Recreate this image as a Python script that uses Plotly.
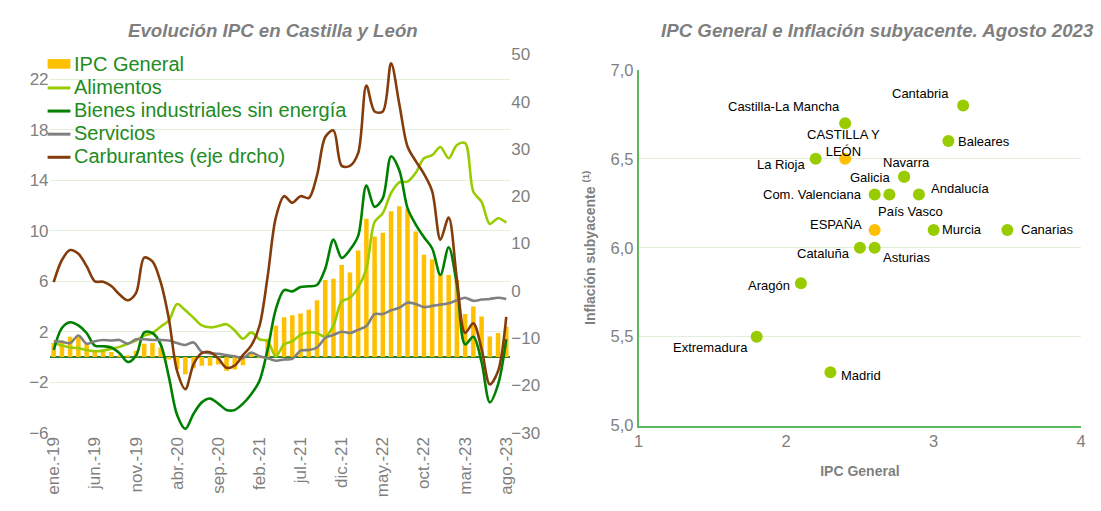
import plotly.graph_objects as go

# ---------------- data: left chart ----------------
month_abbr = ["ene.", "feb.", "mar.", "abr.", "may.", "jun.", "jul.", "ago.", "sep.", "oct.", "nov.", "dic."]
periods = [f"{m}-{y}" for y in range(19, 24) for m in month_abbr][:56]   # ene.-19 .. ago.-23
tick_labels = periods[::5]

ipc_general = [1.1, 1.3, 1.6, 1.75, 1.0, 0.4, 0.55, 0.4, 0.1, 0.1, 0.5, 1.05,
               1.1, 0.75, -0.2, -0.95, -1.37, -0.9, -0.7, -0.7, -0.6, -1.1, -1.0, -0.65,
               0.3, -0.05, 1.45, 2.47, 3.15, 3.3, 3.45, 3.75, 4.5, 6.1, 6.2, 7.3,
               6.7, 8.45, 10.95, 9.55, 9.85, 11.55, 11.95, 11.75, 9.95, 8.1, 7.75, 6.55,
               6.5, 6.1, 3.4, 4.0, 3.2, 1.63, 1.9, 2.4]

alimentos = [1.1, 0.9, 0.75, 0.7, 0.55, 0.45, 0.5, 0.65, 0.8, 1.05, 1.3, 1.7,
             1.9, 2.4, 2.9, 4.2, 3.7, 3.1, 2.5, 2.35, 2.45, 2.6, 2.1, 1.45,
             1.95, 1.4, 1.25, 0.05, 1.0, 1.25, 1.75, 1.95, 1.9, 1.6, 2.5, 4.4,
             4.7, 5.5, 7.0, 10.7, 11.4, 13.0, 13.85, 13.9, 14.6, 15.75, 16.0, 16.65,
             15.75, 16.8, 16.95, 13.1, 12.3, 10.55, 11.0, 10.65]

bienes_ind = [0.55, 2.3, 2.75, 2.5, 1.9, 0.9, 0.85, 0.75, 0.3, -0.4, 0.1, 1.95,
              1.9, 1.0, -1.6, -4.6, -5.7, -4.5, -3.6, -3.3, -3.7, -4.2, -4.2, -3.7,
              -2.95, -1.9, 0.6, 3.8, 5.3, 5.2, 5.55, 5.6, 5.7, 7.0, 9.3, 7.85,
              8.5, 9.6, 13.6, 11.9, 12.6, 15.9, 14.8, 11.8, 10.5, 9.5, 8.6, 6.5,
              8.7, 5.7, 1.0, 1.6, -0.4, -3.6, -2.2, 1.4]

servicios = [1.25, 1.2, 1.1, 1.7, 1.05, 1.25, 1.35, 1.3, 1.35, 1.05, 1.4, 1.4,
             1.35, 1.35, 1.3, 1.1, 0.95, 1.15, 0.4, 0.3, 0.25, 0.15, 0.05, -0.1,
             0.35, 0.05, -0.1, -0.3, -0.2, -0.15, 0.5, 0.55, 0.75, 1.5, 1.75, 2.0,
             1.9, 2.15, 2.45, 3.4, 3.4, 3.7, 3.9, 4.3, 4.2, 3.95, 4.05, 4.15,
             4.25, 4.5, 4.7, 4.45, 4.55, 4.6, 4.7, 4.6]

carburantes = [1.8, 6.5, 8.6, 7.8, 5.2, 2.0, 1.9, 1.0, -0.8, -2.0, -0.5, 7.0,
               6.2, 1.8, -6.0, -17.0, -20.8, -15.5, -13.2, -13.0, -14.3, -16.3, -15.8, -13.6,
               -11.6, -7.5, 3.0, 15.5, 20.0, 18.6, 20.0, 19.6, 24.4, 32.5, 33.9, 26.4,
               26.4, 29.1, 43.4, 37.9, 37.9, 48.1, 39.5, 30.5, 27.4, 24.7, 21.0, 10.8,
               15.5, 2.5, -8.9, -6.9, -12.3, -19.8, -17.0, -5.5]

# ---------------- data: right chart ----------------
regions = ["Cantabria", "Castilla-La Mancha", "Baleares", "CASTILLA Y<br>LEÓN", "La Rioja",
           "Navarra", "Galicia", "Com. Valenciana", "País Vasco", "Andalucía", "ESPAÑA",
           "Murcia", "Canarias", "Cataluña", "Asturias", "Aragón", "Extremadura", "Madrid"]
ipc_reg = [3.2, 2.4, 3.1, 2.4, 2.2, 2.8, 2.8, 2.6, 2.7, 2.9, 2.6, 3.0, 3.5, 2.5, 2.6, 2.1, 1.8, 2.3]
subyacente_reg = [6.8, 6.7, 6.6, 6.5, 6.5, 6.4, 6.4, 6.3, 6.3, 6.3, 6.1, 6.1, 6.1, 6.0, 6.0, 5.8, 5.5, 5.3]
highlighted = ["CASTILLA Y<br>LEÓN", "ESPAÑA"]

# label placement (style): anchor, x offset px, y offset px (down positive)
label_pos = {
    "Cantabria": ("right", -12, -12),
    "Castilla-La Mancha": ("right", -3, -17),
    "Baleares": ("left", 8, 0),
    "CASTILLA Y<br>LEÓN": ("center", -2, -16),
    "La Rioja": ("right", -9, 6),
    "Navarra": ("center", 2, -14),
    "Galicia": ("right", -11, 1),
    "Com. Valenciana": ("right", -11, 0),
    "País Vasco": ("center", 21, 17),
    "Andalucía": ("left", 10, -6),
    "ESPAÑA": ("right", -11, -5),
    "Murcia": ("left", 6, 0),
    "Canarias": ("left", 12, 0),
    "Cataluña": ("right", -8, 6),
    "Asturias": ("left", 6, 10),
    "Aragón": ("right", -9, 2),
    "Extremadura": ("right", -7, 11),
    "Madrid": ("left", 9, 3),
}

W, H = 1101, 511
GRAY = "#7F7F7F"
GRID = "#E2EFDA"
LEG_GREEN = "#228B22"
AXIS_GREEN = "#5CB85C"
FONT = "Liberation Sans, Arial"


def fx(px):          # page x pixel -> paper fraction
    return px / W


def fy(py):          # page y pixel -> paper fraction
    return 1 - py / H


fig = go.Figure()

bar_color = "#FFC000"
fig.add_trace(go.Bar(x=periods, y=ipc_general, name="IPC General",
                     marker=dict(color=bar_color, line=dict(width=0)),
                     xaxis="x", yaxis="y", showlegend=False))

line_series = [
    ("Alimentos", alimentos, "#99CC00", "y"),
    ("Bienes industriales sin energía", bienes_ind, "#008000", "y"),
    ("Servicios", servicios, "#808080", "y"),
    ("Carburantes (eje drcho)", carburantes, "#843C0C", "y2"),
]
for name, vals, col, ax in line_series:
    fig.add_trace(go.Scatter(x=periods, y=vals, name=name, mode="lines",
                             line=dict(color=col, width=2.6, shape="spline", smoothing=0.9),
                             xaxis="x", yaxis=ax, showlegend=False))

colors = ["#FFC000" if r in highlighted else "#99CC00" for r in regions]
fig.add_trace(go.Scatter(x=ipc_reg, y=subyacente_reg, mode="markers",
                         marker=dict(size=12, color=colors, line=dict(width=0)),
                         xaxis="x2", yaxis="y3", showlegend=False, hoverinfo="text",
                         text=regions))

annotations = []
shapes = []
for r, xv, yv in zip(regions, ipc_reg, subyacente_reg):
    anc, dx, dy = label_pos[r]
    annotations.append(dict(x=xv, y=yv, xref="x2", yref="y3", text=r, showarrow=False,
                            xanchor=anc, yanchor="middle", xshift=dx, yshift=-dy,
                            font=dict(family=FONT, size=13, color="#000000")))

# ---- custom legend (compact spacing as in the reference) ----
legend_entries = [("IPC General", bar_color, "bar")] + [(n, c, "line") for n, _, c, _ in line_series]
leg_x0, leg_x1, leg_text_x, leg_y0, leg_dy = 43, 66, 68, 57, 24
for k, (name, col, kind) in enumerate(legend_entries):
    yc = leg_y0 + k * leg_dy
    annotations.append(dict(x=fx(leg_text_x), y=fy(yc), xref="paper", yref="paper",
                            text=name, showarrow=False, xanchor="left", yanchor="middle",
                            font=dict(family=FONT, size=20, color=LEG_GREEN)))
    if kind == "bar":
        shapes.append(dict(type="rect", xref="paper", yref="paper",
                           x0=fx(leg_x0), x1=fx(leg_x1), y0=fy(yc + 5), y1=fy(yc - 5),
                           fillcolor=col, line=dict(width=0)))
    else:
        shapes.append(dict(type="line", xref="paper", yref="paper",
                           x0=fx(leg_x0), x1=fx(leg_x1), y0=fy(yc + 1), y1=fy(yc + 1),
                           line=dict(color=col, width=3)))

annotations.append(dict(x=fx(270), y=fy(22), xref="paper", yref="paper",
                        text="<b><i>Evolución IPC en Castilla y León</i></b>", showarrow=False,
                        xanchor="center", yanchor="middle",
                        font=dict(family=FONT, size=18.7, color=GRAY)))
annotations.append(dict(x=fx(880), y=fy(22), xref="paper", yref="paper",
                        text="<b><i>IPC General e Inflación subyacente. Agosto 2023</i></b>",
                        showarrow=False, xanchor="center", yanchor="middle",
                        font=dict(family=FONT, size=18.7, color=GRAY)))

tickfont = dict(family=FONT, size=17, color=GRAY)

fig.update_layout(
    width=W, height=H,
    margin=dict(l=0, r=0, t=0, b=0),
    paper_bgcolor="white", plot_bgcolor="white",
    separators=",.",
    bargap=0.45,
    font=dict(family=FONT),
    showlegend=False,
    xaxis=dict(domain=[fx(45), fx(510)], anchor="y", type="category",
               range=[-0.5, 55.5], tickmode="array", tickvals=tick_labels,
               ticktext=tick_labels, tickangle=-90, tickfont=tickfont,
               showgrid=False, showline=False, ticks="", zeroline=False),
    yaxis=dict(domain=[fy(440), fy(47)], range=[-6, 24],
               tickmode="array", tickvals=list(range(-6, 23, 4)),
               tickfont=tickfont, showgrid=True, gridcolor=GRID, gridwidth=1.2,
               zeroline=True, zerolinecolor="#2E7D32", zerolinewidth=1.5,
               showline=False, ticks=""),
    yaxis2=dict(overlaying="y", side="right", anchor="x", range=[-30, 50],
                tickmode="array", tickvals=list(range(-30, 51, 10)),
                tickfont=tickfont, showgrid=False, zeroline=False, showline=False,
                ticks=""),
    xaxis2=dict(domain=[fx(639.5), fx(1086)], anchor="y3", range=[1, 4],
                tickmode="array", tickvals=[1, 2, 3, 4],
                tickfont=dict(family=FONT, size=16.5, color=GRAY),
                showgrid=False, zeroline=False, showline=True, linecolor=AXIS_GREEN,
                linewidth=2, ticks="",
                title=dict(text="<b>IPC General</b>", standoff=17,
                           font=dict(family=FONT, size=14, color=GRAY))),
    yaxis3=dict(domain=[fy(432.7), fy(63.3)], anchor="x2", range=[5, 7],
                tickmode="array", tickvals=[5, 5.5, 6, 6.5, 7], tickformat=".1f",
                tickfont=dict(family=FONT, size=16.5, color=GRAY),
                showgrid=True, gridcolor=GRID, gridwidth=1.2, zeroline=False,
                showline=True, linecolor=AXIS_GREEN, linewidth=2, ticks="",
                title=dict(text="<b>Inflación subyacente <sup>(1)</sup></b>", standoff=12,
                           font=dict(family=FONT, size=14, color=GRAY))),
    annotations=annotations,
    shapes=shapes,
)

fig.write_html("out.html", config={"displayModeBar": False},
               post_script="document.body.style.margin='0';document.body.style.overflow='hidden';")
